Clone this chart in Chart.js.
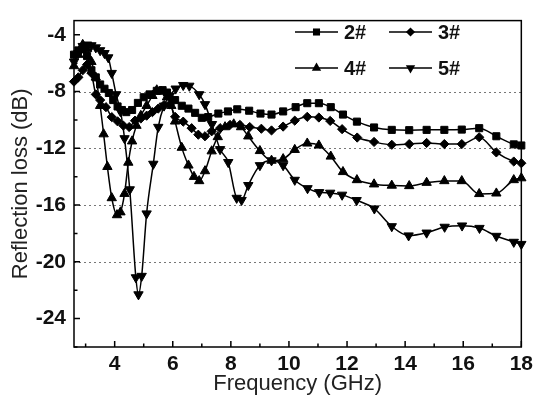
<!DOCTYPE html>
<html>
<head>
<meta charset="utf-8">
<script src="https://cdn.jsdelivr.net/npm/chart.js@4.4.0/dist/chart.umd.min.js"></script>
<style>
  html, body { margin: 0; padding: 0; background: #fff; }
  #wrap { width: 538px; height: 405px; }
</style>
</head>
<body>
<div id="wrap"><canvas id="chart" width="538" height="405"></canvas></div>
<script>
// sample names
const seriesNames = ["2#", "3#", "4#", "5#"];

// frequency (GHz) / reflection loss (dB)
const freq2 = [2.6, 2.75, 2.9, 3.05, 3.2, 3.35, 3.5, 3.65, 3.8, 3.95, 4.1, 4.25, 4.4, 4.6, 4.8, 5.0, 5.2, 5.45, 5.65, 5.8, 6.08, 6.31, 6.54, 6.77, 7.0, 7.22, 7.57, 7.9, 8.22, 8.63, 9.02, 9.4, 9.8, 10.23, 10.63, 11.03, 11.44, 11.86, 12.34, 12.93, 13.54, 14.14, 14.74, 15.35, 15.95, 16.55, 17.14, 17.74, 18.0];
const loss2 = [-5.4, -5.1, -5.0, -5.5, -6.5, -7.0, -7.5, -7.8, -8.1, -8.6, -9.05, -9.3, -9.45, -9.3, -8.8, -8.4, -8.2, -7.95, -7.9, -8.07, -8.6, -9.0, -9.2, -9.5, -9.85, -9.8, -9.55, -9.4, -9.25, -9.35, -9.55, -9.62, -9.4, -9.1, -8.82, -8.82, -9.1, -9.62, -10.12, -10.53, -10.7, -10.72, -10.7, -10.7, -10.68, -10.58, -11.15, -11.72, -11.8];

const freq3 = [2.6, 2.75, 2.9, 3.05, 3.2, 3.35, 3.5, 3.7, 3.9, 4.1, 4.3, 4.5, 4.7, 4.9, 5.1, 5.3, 5.5, 5.7, 5.9, 6.08, 6.36, 6.65, 6.88, 7.11, 7.34, 7.63, 7.97, 8.31, 8.65, 9.05, 9.4, 9.8, 10.2, 10.63, 11.03, 11.42, 11.83, 12.35, 12.93, 13.54, 14.14, 14.74, 15.35, 15.95, 16.55, 17.14, 17.74, 18.0];
const loss3 = [-7.3, -7.0, -6.5, -6.1, -6.7, -8.2, -8.6, -9.1, -9.8, -10.1, -10.4, -10.5, -10.05, -9.9, -9.7, -9.45, -9.2, -8.95, -8.9, -9.78, -10.12, -10.58, -11.04, -11.15, -10.8, -10.58, -10.35, -10.35, -10.5, -10.62, -10.74, -10.47, -10.05, -9.78, -9.83, -10.07, -10.65, -11.24, -11.55, -11.75, -11.7, -11.62, -11.7, -11.7, -11.22, -12.29, -12.93, -13.05];

const freq4 = [2.6, 2.75, 2.9, 3.05, 3.2, 3.35, 3.5, 3.62, 3.75, 3.9, 4.08, 4.2, 4.34, 4.47, 4.6, 4.75, 4.9, 5.1, 5.3, 5.45, 5.6, 5.8, 5.95, 6.08, 6.31, 6.54, 6.73, 6.91, 7.11, 7.34, 7.55, 7.8, 8.1, 8.35, 8.6, 9.0, 9.4, 9.8, 10.2, 10.63, 11.03, 11.44, 11.86, 12.34, 12.93, 13.54, 14.14, 14.74, 15.35, 15.95, 16.55, 17.14, 17.74, 18.0];
const loss4 = [-6.2, -5.4, -4.7, -5.0, -5.9, -7.0, -9.0, -11.0, -13.3, -15.5, -16.7, -16.5, -15.2, -13.0, -11.5, -10.4, -9.7, -9.0, -8.3, -7.9, -8.0, -8.4, -9.0, -10.1, -11.95, -13.2, -14.0, -14.3, -13.6, -12.2, -11.2, -10.5, -10.3, -10.5, -11.15, -12.18, -12.86, -12.75, -12.1, -11.65, -11.79, -12.57, -13.66, -14.23, -14.53, -14.62, -14.65, -14.42, -14.3, -14.3, -15.21, -15.17, -14.23, -14.1];

const freq5 = [2.6, 2.75, 2.9, 3.05, 3.2, 3.35, 3.5, 3.65, 3.78, 3.9, 4.05, 4.2, 4.34, 4.52, 4.73, 4.82, 4.93, 5.1, 5.33, 5.5, 5.7, 5.9, 6.1, 6.36, 6.57, 6.91, 7.11, 7.35, 7.63, 7.91, 8.2, 8.37, 8.6, 9.0, 9.4, 9.8, 10.2, 10.64, 11.04, 11.42, 11.83, 12.33, 12.94, 13.54, 14.12, 14.74, 15.36, 15.96, 16.56, 17.14, 17.74, 18.0];
const loss5 = [-5.9, -5.3, -4.8, -4.7, -4.75, -4.9, -5.1, -5.3, -5.6, -6.7, -8.2, -9.4, -11.3, -14.9, -21.1, -22.3, -21.0, -16.6, -13.1, -10.5, -9.0, -8.3, -7.8, -7.55, -7.6, -8.2, -8.9, -10.3, -12.07, -12.98, -15.5, -15.65, -14.6, -13.2, -12.86, -13.2, -14.23, -14.82, -15.1, -15.14, -15.28, -15.66, -16.25, -17.5, -18.15, -17.95, -17.54, -17.45, -17.62, -18.18, -18.6, -18.75];

// axis ticks
const xTicks = [4, 6, 8, 10, 12, 14, 16, 18];
const xMinorTicks = [3, 5, 7, 9, 11, 13, 15, 17];
const yTicks = [-24, -20, -16, -12, -8, -4];
const yMinorTicks = [-26, -22, -18, -14, -10, -6];
const yGridLines = [-20, -16, -12, -8];

const FONT = "'Liberation Sans', Arial, Helvetica, sans-serif";
const INK = "#111";

const markerStyles = [
  { pointStyle: "rect", radius: 5, rotation: 0 },
  { pointStyle: "rectRot", radius: 4.6, rotation: 0 },
  { pointStyle: "triangle", radius: 5.4, rotation: 0 },
  { pointStyle: "triangle", radius: 5.4, rotation: 180 },
];

function toPoints(xs, ys) {
  return xs.map((x, i) => ({ x: x, y: ys[i] }));
}

const allSeries = [
  toPoints(freq2, loss2),
  toPoints(freq3, loss3),
  toPoints(freq4, loss4),
  toPoints(freq5, loss5),
];

const datasets = allSeries.map((pts, i) => ({
  label: seriesNames[i],
  data: pts,
  borderColor: "#000",
  backgroundColor: "#000",
  borderWidth: 1.5,
  pointStyle: markerStyles[i].pointStyle,
  pointRadius: markerStyles[i].radius,
  pointRotation: markerStyles[i].rotation,
  pointBackgroundColor: "#000",
  pointBorderColor: "#000",
  pointBorderWidth: 1,
  cubicInterpolationMode: "monotone",
  clip: false,
}));

// frame, inward ticks, dotted grid and the two-column legend
const framePlugin = {
  id: "frame",
  beforeDatasetsDraw(chart) {
    const { ctx, chartArea: a, scales: { y } } = chart;
    ctx.save();
    ctx.strokeStyle = "#777";
    ctx.lineWidth = 1;
    ctx.setLineDash([2, 3]);
    yGridLines.forEach((v) => {
      const py = Math.round(y.getPixelForValue(v)) + 0.5;
      ctx.beginPath();
      ctx.moveTo(a.left, py);
      ctx.lineTo(a.right, py);
      ctx.stroke();
    });
    ctx.restore();
  },
  afterDatasetsDraw(chart) {
    const { ctx, chartArea: a, scales: { x, y } } = chart;
    ctx.save();
    ctx.strokeStyle = "#000";
    ctx.lineWidth = 1.5;
    ctx.strokeRect(a.left, a.top, a.right - a.left, a.bottom - a.top);
    ctx.beginPath();
    xTicks.forEach((v) => {
      const px = x.getPixelForValue(v);
      ctx.moveTo(px, a.bottom);
      ctx.lineTo(px, a.bottom - 6);
    });
    xMinorTicks.forEach((v) => {
      const px = x.getPixelForValue(v);
      ctx.moveTo(px, a.bottom);
      ctx.lineTo(px, a.bottom - 3.5);
    });
    yTicks.forEach((v) => {
      const py = y.getPixelForValue(v);
      ctx.moveTo(a.left, py);
      ctx.lineTo(a.left + 6, py);
    });
    yMinorTicks.forEach((v) => {
      const py = y.getPixelForValue(v);
      ctx.moveTo(a.left, py);
      ctx.lineTo(a.left + 3.5, py);
    });
    ctx.stroke();
    ctx.restore();
  },
  afterDraw(chart) {
    const { ctx } = chart;
    const slots = [
      { x: 295, y: 32 },
      { x: 389, y: 32 },
      { x: 295, y: 68 },
      { x: 389, y: 68 },
    ];
    ctx.save();
    slots.forEach((s, i) => {
      ctx.strokeStyle = "#000";
      ctx.lineWidth = 1.5;
      ctx.beginPath();
      ctx.moveTo(s.x, s.y);
      ctx.lineTo(s.x + 43, s.y);
      ctx.stroke();
      drawMarker(ctx, markerStyles[i], s.x + 21.5, s.y);
      ctx.fillStyle = INK;
      ctx.font = "bold 20px " + FONT;
      ctx.textAlign = "left";
      ctx.textBaseline = "middle";
      ctx.fillText(seriesNames[i], s.x + 49, s.y + 1);
    });
    ctx.restore();
  },
};

function drawMarker(ctx, m, cx, cy) {
  const r = m.radius;
  ctx.fillStyle = "#000";
  ctx.beginPath();
  if (m.pointStyle === "rect") {
    const h = r * Math.SQRT1_2;
    ctx.rect(cx - h, cy - h, 2 * h, 2 * h);
  } else if (m.pointStyle === "rectRot") {
    ctx.moveTo(cx - r, cy);
    ctx.lineTo(cx, cy - r);
    ctx.lineTo(cx + r, cy);
    ctx.lineTo(cx, cy + r);
    ctx.closePath();
  } else {
    const dir = m.rotation === 180 ? -1 : 1;
    ctx.moveTo(cx, cy - dir * r);
    ctx.lineTo(cx + r * 0.866, cy + dir * r * 0.5);
    ctx.lineTo(cx - r * 0.866, cy + dir * r * 0.5);
    ctx.closePath();
  }
  ctx.fill();
}

new Chart(document.getElementById("chart"), {
  type: "line",
  data: { datasets: datasets },
  options: {
    responsive: false,
    animation: false,
    devicePixelRatio: 1,
    layout: { padding: { top: 11, right: 16, left: 0, bottom: 0 } },
    plugins: {
      legend: { display: false },
      tooltip: { enabled: false },
    },
    scales: {
      x: {
        type: "linear",
        min: 2.6,
        max: 18,
        grid: { display: false, drawTicks: false },
        border: { display: false },
        afterBuildTicks: (s) => { s.ticks = xTicks.map((v) => ({ value: v })); },
        afterFit: (s) => { s.height = 58; },
        ticks: {
          color: INK,
          padding: 5,
          maxRotation: 0,
          autoSkip: false,
          font: { family: FONT, size: 21, weight: "bold" },
        },
        title: {
          display: true,
          text: "Frequency (GHz)",
          color: "#222",
          font: { family: FONT, size: 22 },
          padding: { top: 0, bottom: 8 },
        },
      },
      y: {
        type: "linear",
        min: -26,
        max: -3,
        grid: { display: false, drawTicks: false },
        border: { display: false },
        afterBuildTicks: (s) => { s.ticks = yTicks.map((v) => ({ value: v })); },
        afterFit: (s) => { s.width = 74; },
        ticks: {
          color: INK,
          padding: 8,
          autoSkip: false,
          font: { family: FONT, size: 21, weight: "bold" },
        },
        title: {
          display: true,
          text: "Reflection loss (dB)",
          color: "#222",
          font: { family: FONT, size: 22 },
          padding: { top: 8, bottom: 0 },
        },
      },
    },
  },
  plugins: [framePlugin],
});
</script>
</body>
</html>
